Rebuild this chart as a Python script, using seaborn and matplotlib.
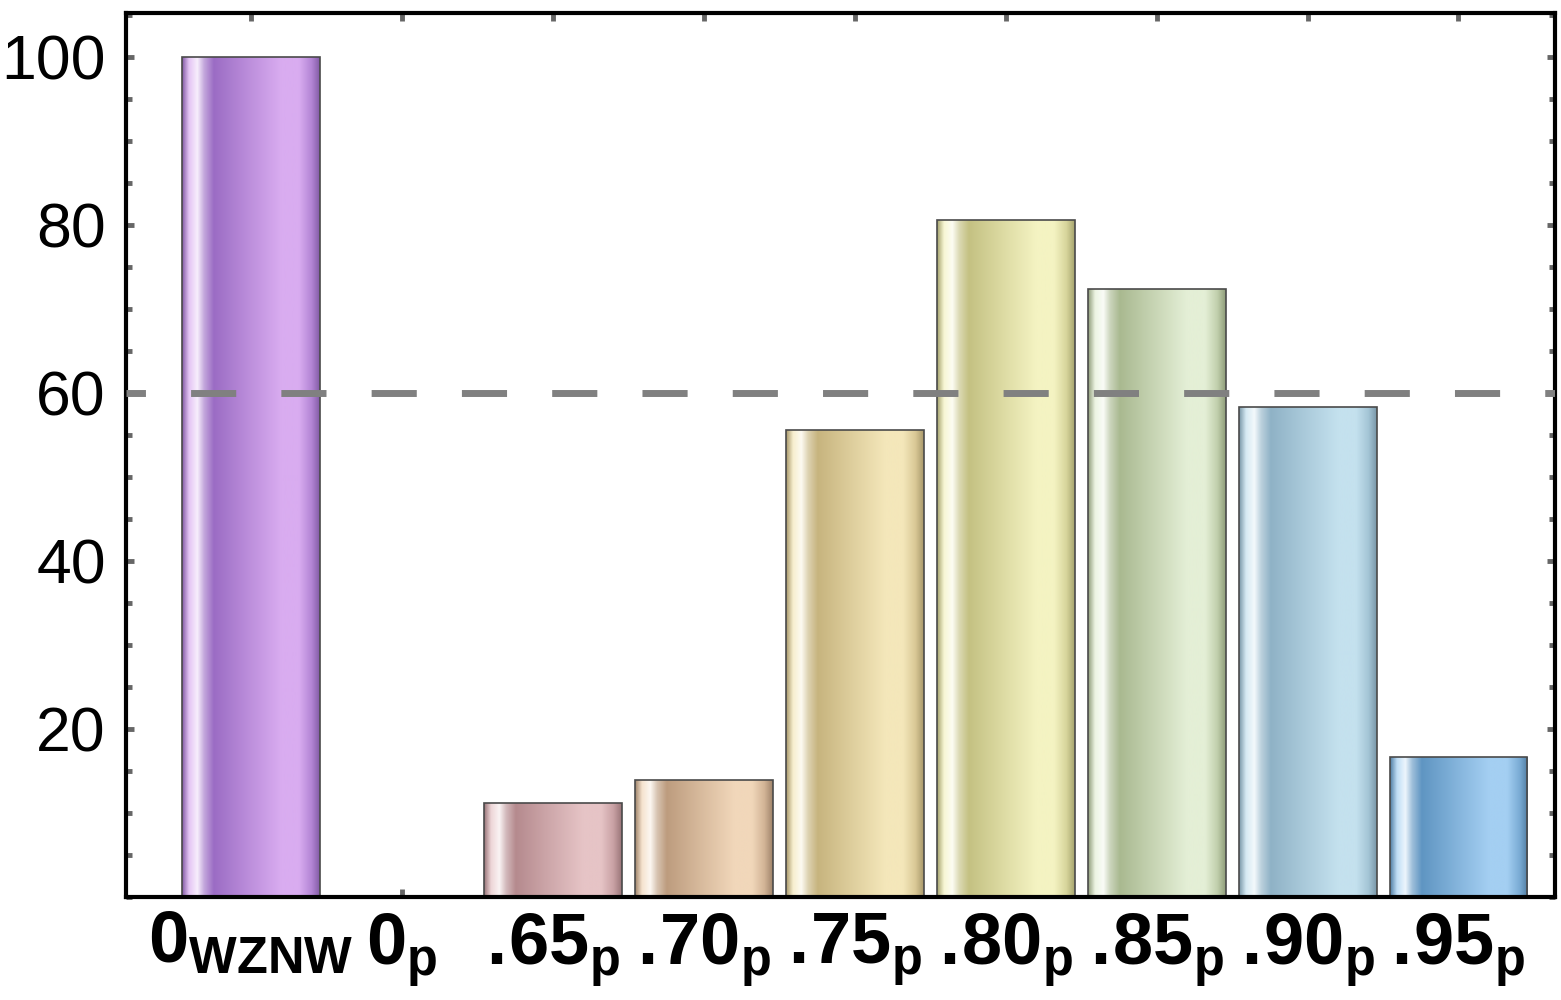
import matplotlib

matplotlib.use("Agg")
import matplotlib.pyplot as plt
import numpy as np
import pandas as pd
import seaborn as sns
from matplotlib.colors import LinearSegmentedColormap, to_rgb
from matplotlib.ticker import MultipleLocator

# %%
main_labels = [r"0", r"0", r".\!65", r".\!70", r".\!75", r".\!80", r".\!85", r".\!90", r".\!95"]
sub_labels = ["WZNW", "p", "p", "p", "p", "p", "p", "p", "p"]
values = [100, 0, 11.2, 13.9, 55.6, 80.6, 72.3, 58.3, 16.7]
dark_colors = ["#9b6cc4", "#999999", "#b58a8e", "#bd9c7e", "#c7b47e",
               "#c4c182", "#a9b990", "#8fb2c6", "#5f95c2"]
light_colors = ["#d9acf0", "#cccccc", "#e6c4c6", "#f1d7ba", "#f4e7ba",
                "#f4f3c2", "#e4efd6", "#c4e1ee", "#a4cff2"]
threshold = 60

categories = [
    r"$\mathbf{%s}_{\mathbf{%s}}$" % (m, s) for m, s in zip(main_labels, sub_labels)
]
df = pd.DataFrame({"cat": categories, "value": values})

# %%
sns.set_style("white")
plt.rcParams["font.family"] = ["Liberation Sans", "DejaVu Sans"]
plt.rcParams["mathtext.fontset"] = "custom"
plt.rcParams["mathtext.bf"] = "Liberation Sans:bold"
plt.rcParams["mathtext.rm"] = "Liberation Sans:bold"
plt.rcParams["mathtext.it"] = "Liberation Sans:bold"


def mix(a, b, t):
    a, b = np.array(to_rgb(a)), np.array(to_rgb(b))
    return tuple(a * (1 - t) + b * t)


def bar_cmap(dark, light):
    stops = [
        (0.00, mix(dark, "black", 0.15)),
        (0.05, mix(light, "white", 0.3)),
        (0.11, mix(light, "white", 0.8)),
        (0.16, mix(dark, "white", 0.4)),
        (0.23, dark),
        (0.47, mix(dark, light, 0.5)),
        (0.72, light),
        (0.85, light),
        (0.94, mix(dark, light, 0.4)),
        (1.00, mix(dark, "black", 0.15)),
    ]
    return LinearSegmentedColormap.from_list("bar", stops)


fig = plt.figure(figsize=(15.61, 10), dpi=100)
ax = fig.add_axes([0.0807, 0.103, 0.9155, 0.884])

sns.barplot(
    data=df, x="cat", y="value", hue="cat", palette=dark_colors,
    legend=False, width=0.914, edgecolor="#4a4a4a", linewidth=1.2, ax=ax,
)

grad = np.linspace(0, 1, 256).reshape(1, -1)
for patch, dark, light in zip(ax.patches, dark_colors, light_colors):
    x0, y0 = patch.get_x(), patch.get_y()
    w, h = patch.get_width(), patch.get_height()
    if h <= 0:
        continue
    im = ax.imshow(grad, cmap=bar_cmap(dark, light), aspect="auto",
                   extent=[x0, x0 + w, y0, y0 + h], zorder=1.5)
    im.set_clip_path(patch)
    patch.set_facecolor("none")
    patch.set_zorder(2)

ax.axhline(threshold, color="#808080", lw=5, linestyle=(3.7, (6.5, 6.5)), zorder=3)

ax.set_xlim(-0.83, 8.64)
ax.set_ylim(0, 105.2)
ax.set_yticks([20, 40, 60, 80, 100])
ax.yaxis.set_minor_locator(MultipleLocator(5))
ax.set_xlabel("")
ax.set_ylabel("")

for side in ax.spines:
    ax.spines[side].set_linewidth(3)
    ax.spines[side].set_color("black")

ax.tick_params(axis="both", which="both", direction="in", color="#666666",
               top=True, right=True, bottom=True, left=True, labelcolor="black")
ax.tick_params(axis="both", which="major", length=6, width=3.5)
ax.tick_params(axis="both", which="minor", length=4, width=3.5)
ax.tick_params(axis="y", labelsize=45, pad=14.5)
ax.tick_params(axis="x", labelsize=52, pad=10)

fig.savefig("out.png", dpi=100)
